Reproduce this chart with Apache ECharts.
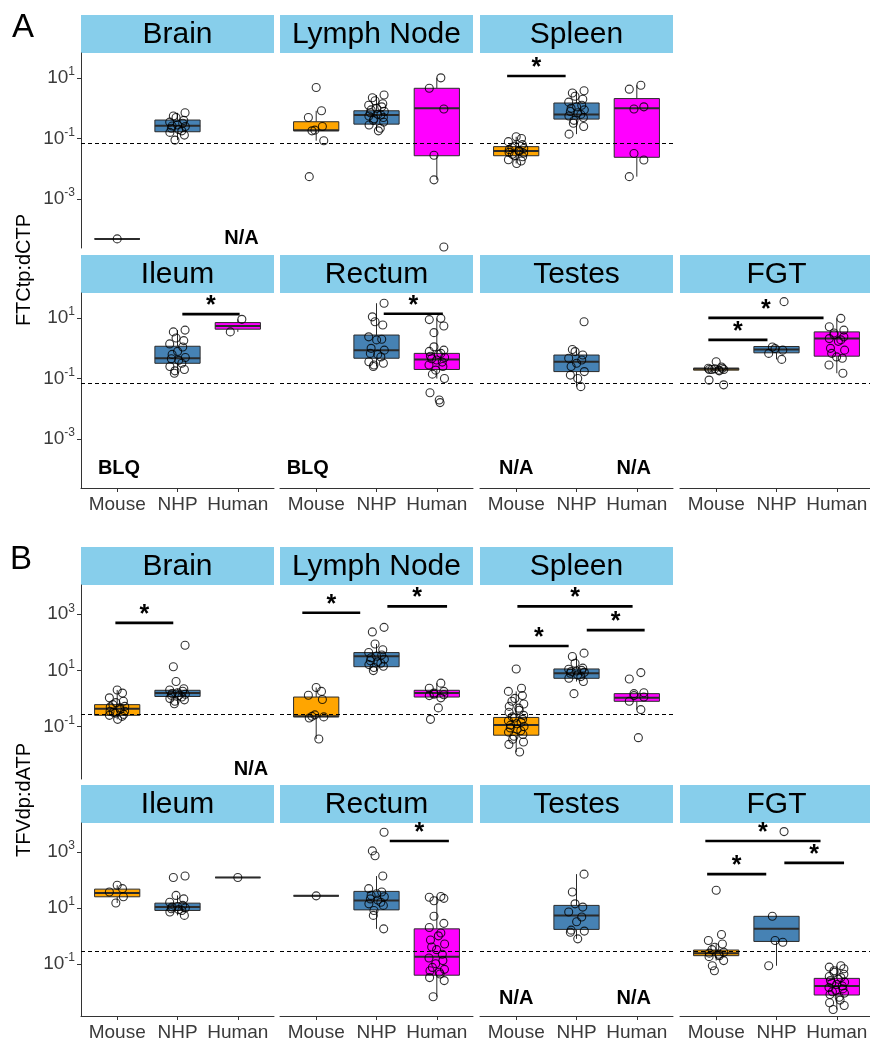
<!DOCTYPE html>
<html><head><meta charset="utf-8">
<script src="https://cdn.jsdelivr.net/npm/echarts@6/dist/echarts.min.js"></script>
<style>html,body{margin:0;padding:0;background:#fff}#c{width:870px;height:1041px}</style>
</head><body><div id="c"></div>
<script>
const groups = ['Mouse', 'NHP', 'Human'];
const groupColors = ['#FFA500', '#4682B4', '#FF00FF'];
const ftcTicks = [-3, -1, 1];
const tfvTicks = [-1, 1, 3];
const ftcLLOQ = 0.07;
const tfvLLOQ = 0.28;

// ---------- A: FTCtp:dCTP ----------
const ftcBrainMouse = [4.8e-5];
const ftcBrainMouseBox = [4.8e-5, 4.8e-5, 4.8e-5, 4.8e-5, 4.8e-5];
const ftcBrainNHP = [0.71,0.56,0.50,0.40,0.35,0.32,0.28,0.26,0.25,0.22,0.20,0.18,0.16,0.13,0.089];
const ftcBrainNHPBox = [0.089,0.168,0.265,0.41,0.71];

const ftcLymphMouse = [4.9,0.83,0.50,0.25,0.19,0.18,0.085,0.0055];
const ftcLymphMouseBox = [0.085,0.18,0.19,0.36,0.83];
const ftcLymphNHP = [2.75,2.24,1.78,1.41,1.26,1.12,1.0,0.89,0.79,0.71,0.63,0.60,0.56,0.50,0.45,0.40,0.35,0.28,0.22,0.18];
const ftcLymphNHPBox = [0.18,0.30,0.60,0.83,2.75];
const ftcLymphHuman = [10.2,4.6,0.95,0.028,0.0043,2.6e-5];
const ftcLymphHumanBox = [0.0043,0.027,1.0,4.6,10.2];

const ftcSpleenMouse = [0.115,0.10,0.079,0.063,0.056,0.050,0.047,0.043,0.040,0.038,0.035,0.033,0.030,0.0275,0.025,0.020,0.018,0.015];
const ftcSpleenMouseBox = [0.015,0.027,0.039,0.054,0.115];
const ftcSpleenNHP = [3.8,3.2,2.5,2.0,1.6,1.26,1.12,1.0,0.89,0.79,0.71,0.63,0.56,0.50,0.40,0.32,0.25,0.14];
const ftcSpleenNHPBox = [0.14,0.44,0.63,1.5,3.8];
const ftcSpleenHuman = [5.8,4.3,1.12,0.95,0.032,0.0195,0.0055];
const ftcSpleenHumanBox = [0.0055,0.024,1.0,2.1,5.8];
const ftcSpleenSig = [[0.85,1.82,11.7]];

const ftcIleumNHP = [4.0,3.5,2.2,1.8,1.4,1.1,0.79,0.63,0.50,0.45,0.40,0.32,0.25,0.20,0.18,0.15];
const ftcIleumNHPBox = [0.15,0.32,0.47,1.17,4.0];
const ftcIleumHuman = [9.1,3.5];
const ftcIleumHumanBox = [3.5,4.3,5.5,7.1,9.1];
const ftcIleumSig = [[2.08,3.03,13.5]];

const ftcRectumNHP = [31,11,7.6,5.9,2.4,2.0,1.9,1.0,0.87,0.68,0.63,0.52,0.36,0.32,0.28,0.25];
const ftcRectumNHPBox = [0.25,0.47,0.87,2.75,31];
const ftcRectumHuman = [9.8,8.9,5.5,3.3,1.12,0.87,0.79,0.68,0.63,0.55,0.50,0.45,0.41,0.35,0.28,0.25,0.19,0.14,0.10,0.034,0.0195,0.016];
const ftcRectumHumanBox = [0.10,0.20,0.43,0.68,9.8];
const ftcRectumSig = [[2.12,3.1,14]];

const ftcTestesNHP = [7.6,0.91,0.78,0.60,0.47,0.41,0.32,0.25,0.17,0.13,0.10,0.054];
const ftcTestesNHPBox = [0.054,0.17,0.36,0.60,0.91];

const ftcFGTMouse = [0.36,0.24,0.22,0.22,0.21,0.20,0.20,0.20,0.19,0.18,0.089,0.062];
const ftcFGTMouseBox = [0.18,0.19,0.21,0.22,0.24];
const ftcFGTNHP = [35,1.1,0.98,0.87,0.68,0.43];
const ftcFGTNHPBox = [0.43,0.71,0.91,1.15,1.15];
const ftcFGTHuman = [9.8,5.2,4.0,3.2,2.8,2.4,2.1,1.9,1.7,1.0,0.87,0.68,0.52,0.47,0.28,0.15];
const ftcFGTHumanBox = [0.15,0.55,2.1,3.5,9.8];
const ftcFGTSig = [[0.87,2.78,10.2],[0.87,1.85,1.9]];

// ---------- B: TFVdp:dATP ----------
const tfvBrainMouse = [2.0,1.55,1.05,0.79,0.71,0.60,0.52,0.50,0.46,0.40,0.35,0.35,0.32,0.30,0.27,0.25,0.23,0.18];
const tfvBrainMouseBox = [0.18,0.25,0.43,0.60,2.0];
const tfvBrainNHP = [78,13.5,4.0,2.2,2.0,1.8,1.6,1.5,1.4,1.3,1.26,1.12,1.0,0.89,0.79,0.65];
const tfvBrainNHPBox = [0.65,1.17,1.55,1.95,2.2];
const tfvBrainSig = [[0.97,1.93,490]];

const tfvLymphMouse = [2.45,1.78,1.29,0.91,0.26,0.23,0.22,0.20,0.036];
const tfvLymphMouseBox = [0.036,0.22,0.23,1.12,2.45];
const tfvLymphNHP = [340,234,87,54,43,35,32,28,25,22,20,18,16,14,12.6,9.8];
const tfvLymphNHPBox = [9.8,13.5,32,43,87];
const tfvLymphHuman = [3.5,2.3,1.78,1.55,1.4,1.35,1.26,1.05,0.46,0.18];
const tfvLymphHumanBox = [1.05,1.12,1.55,1.95,3.5];
const tfvLymphSig = [[0.77,1.73,1120],[2.18,3.17,1900]];

const tfvSpleenMouse = [11.2,2.3,1.78,1.26,1.0,0.79,0.63,0.52,0.45,0.38,0.32,0.25,0.22,0.20,0.18,0.16,0.14,0.126,0.112,0.10,0.089,0.079,0.071,0.063,0.052,0.045,0.035,0.028,0.023,0.0123];
const tfvSpleenMouseBox = [0.0123,0.049,0.112,0.21,1.78];
const tfvSpleenNHP = [41,31,18,12,11,10,9.5,9.1,8.5,7.9,6.9,6.0,5.2,4.0,1.48];
const tfvSpleenNHPBox = [4.0,5.2,7.9,11.2,31];
const tfvSpleenHuman = [8.3,4.9,1.6,1.48,1.26,1.12,0.79,0.40,0.040];
const tfvSpleenHumanBox = [0.40,0.79,1.05,1.48,1.6];
const tfvSpleenSig = [[1.02,2.93,1900],[2.17,3.13,270],[0.88,1.87,74]];

const tfvIleumMouse = [65,49,37,25,15];
const tfvIleumMouseBox = [15,25,34,47,65];
const tfvIleumNHP = [138,123,28,21,16,12.3,11.2,10.7,10,9.3,8.7,8.1,7.1,5.4];
const tfvIleumNHPBox = [5.4,8.1,10.7,14.8,28];
const tfvIleumHuman = [123];
const tfvIleumHumanBox = [123,123,123,123,123];

const tfvRectumMouse = [27];
const tfvRectumMouseBox = [27,27,27,27,27];
const tfvRectumNHP = [5100,1100,740,138,49,37,32,28,25,21,19,16,14,12.3,8.1,5.4,1.78];
const tfvRectumNHPBox = [1.78,8.5,18.6,39,138];
const tfvRectumHuman = [25.7,24,22,18,5.0,2.8,2.0,1.26,1.0,0.71,0.51,0.40,0.32,0.22,0.16,0.13,0.10,0.074,0.063,0.056,0.05,0.043,0.032,0.025,0.0066];
const tfvRectumHumanBox = [0.0066,0.039,0.18,1.78,25.7];
const tfvRectumSig = [[2.22,3.2,2500]];

const tfvTestesNHP = [162,37,14,10.7,7.1,4.7,3.2,1.6,1.48,1.35,0.78];
const tfvTestesNHPBox = [0.78,1.7,5.4,12.3,162];

const tfvFGTMouse = [43,1.12,0.68,0.51,0.39,0.32,0.26,0.24,0.22,0.195,0.18,0.13,0.085,0.056];
const tfvFGTMouseBox = [0.13,0.195,0.24,0.31,0.51];
const tfvFGTNHP = [5400,5.0,0.68,0.59,0.085];
const tfvFGTNHPBox = [0.085,0.63,1.78,5.0,5.0];
const tfvFGTHuman = [0.085,0.076,0.066,0.056,0.050,0.042,0.035,0.032,0.028,0.025,0.022,0.020,0.018,0.016,0.014,0.0126,0.0112,0.010,0.0089,0.0079,0.0063,0.0050,0.0040,0.0032,0.0023];
const tfvFGTHumanBox = [0.0023,0.0076,0.016,0.030,0.085];
const tfvFGTSig = [[0.82,2.73,2500],[2.13,3.12,410],[0.85,1.83,162]];

// ---------- panels ----------
const panels = [
  {sec:'A', row:0, col:0, title:'Brain', pts:[ftcBrainMouse, ftcBrainNHP, null], box:[ftcBrainMouseBox, ftcBrainNHPBox, null], sig:[], notes:[['N/A', 3.06, 4.8e-5]]},
  {sec:'A', row:0, col:1, title:'Lymph Node', pts:[ftcLymphMouse, ftcLymphNHP, ftcLymphHuman], box:[ftcLymphMouseBox, ftcLymphNHPBox, ftcLymphHumanBox], sig:[], notes:[]},
  {sec:'A', row:0, col:2, title:'Spleen', pts:[ftcSpleenMouse, ftcSpleenNHP, ftcSpleenHuman], box:[ftcSpleenMouseBox, ftcSpleenNHPBox, ftcSpleenHumanBox], sig:ftcSpleenSig, notes:[]},
  {sec:'A', row:1, col:0, title:'Ileum', pts:[null, ftcIleumNHP, ftcIleumHuman], box:[null, ftcIleumNHPBox, ftcIleumHumanBox], sig:ftcIleumSig, notes:[['BLQ', 1.03, 1.1e-4]]},
  {sec:'A', row:1, col:1, title:'Rectum', pts:[null, ftcRectumNHP, ftcRectumHuman], box:[null, ftcRectumNHPBox, ftcRectumHumanBox], sig:ftcRectumSig, notes:[['BLQ', 0.86, 1.1e-4]]},
  {sec:'A', row:1, col:2, title:'Testes', pts:[null, ftcTestesNHP, null], box:[null, ftcTestesNHPBox, null], sig:[], notes:[['N/A', 1.0, 1.1e-4], ['N/A', 2.95, 1.1e-4]]},
  {sec:'A', row:1, col:3, title:'FGT', pts:[ftcFGTMouse, ftcFGTNHP, ftcFGTHuman], box:[ftcFGTMouseBox, ftcFGTNHPBox, ftcFGTHumanBox], sig:ftcFGTSig, notes:[]},
  {sec:'B', row:2, col:0, title:'Brain', pts:[tfvBrainMouse, tfvBrainNHP, null], box:[tfvBrainMouseBox, tfvBrainNHPBox, null], sig:tfvBrainSig, notes:[['N/A', 3.22, 0.003]]},
  {sec:'B', row:2, col:1, title:'Lymph Node', pts:[tfvLymphMouse, tfvLymphNHP, tfvLymphHuman], box:[tfvLymphMouseBox, tfvLymphNHPBox, tfvLymphHumanBox], sig:tfvLymphSig, notes:[]},
  {sec:'B', row:2, col:2, title:'Spleen', pts:[tfvSpleenMouse, tfvSpleenNHP, tfvSpleenHuman], box:[tfvSpleenMouseBox, tfvSpleenNHPBox, tfvSpleenHumanBox], sig:tfvSpleenSig, notes:[]},
  {sec:'B', row:3, col:0, title:'Ileum', pts:[tfvIleumMouse, tfvIleumNHP, tfvIleumHuman], box:[tfvIleumMouseBox, tfvIleumNHPBox, tfvIleumHumanBox], sig:[], notes:[]},
  {sec:'B', row:3, col:1, title:'Rectum', pts:[tfvRectumMouse, tfvRectumNHP, tfvRectumHuman], box:[tfvRectumMouseBox, tfvRectumNHPBox, tfvRectumHumanBox], sig:tfvRectumSig, notes:[]},
  {sec:'B', row:3, col:2, title:'Testes', pts:[null, tfvTestesNHP, null], box:[null, tfvTestesNHPBox, null], sig:[], notes:[['N/A', 1.0, 0.0055], ['N/A', 2.95, 0.0055]]},
  {sec:'B', row:3, col:3, title:'FGT', pts:[tfvFGTMouse, tfvFGTNHP, tfvFGTHuman], box:[tfvFGTMouseBox, tfvFGTNHPBox, tfvFGTHumanBox], sig:tfvFGTSig, notes:[]}
];

// ---------- layout ----------
const FONT = 'Liberation Sans, Arial, Helvetica, sans-serif';
const colLeft = [81, 280, 480, 680];
const rowTop = [53, 293, 585, 823];
const rowH = [195, 195, 194, 193];
const panelW = 193, stripH = 38;
const yRange = {A: [-4.62, 1.83], B: [-2.87, 4.04]};
const L = Math.log10;
const jit = (k, n, g) => n === 1 ? 0 : 0.13 * Math.sin(k * 2.399 + g * 1.3);

function renderBox(params, api) {
  const x = api.value(0);
  const g = api.value(6);
  const cx = api.coord([x, api.value(3)])[0];
  const yLo = api.coord([x, api.value(1)])[1];
  const yQ1 = api.coord([x, api.value(2)])[1];
  const yMed = api.coord([x, api.value(3)])[1];
  const yQ3 = api.coord([x, api.value(4)])[1];
  const yHi = api.coord([x, api.value(5)])[1];
  const hw = api.size([0.75, 0])[0] / 2;
  const stroke = '#2b2b2b';
  return {type: 'group', children: [
    {type: 'line', shape: {x1: cx, y1: yHi, x2: cx, y2: yQ3}, style: {stroke, lineWidth: 1}},
    {type: 'line', shape: {x1: cx, y1: yQ1, x2: cx, y2: yLo}, style: {stroke, lineWidth: 1}},
    {type: 'rect', shape: {x: cx - hw, y: yQ3, width: 2 * hw, height: Math.max(yQ1 - yQ3, 0)}, style: {fill: groupColors[g], stroke, lineWidth: 1}},
    {type: 'line', shape: {x1: cx - hw, y1: yMed, x2: cx + hw, y2: yMed}, style: {stroke, lineWidth: 2}}
  ]};
}
function renderSig(params, api) {
  const p1 = api.coord([api.value(0), api.value(2)]);
  const p2 = api.coord([api.value(1), api.value(2)]);
  return {type: 'group', children: [
    {type: 'line', shape: {x1: p1[0], y1: p1[1], x2: p2[0], y2: p2[1]}, style: {stroke: '#000', lineWidth: 2.6}},
    {type: 'text', x: (p1[0] + p2[0]) / 2, y: p1[1] - 8, style: {text: '*', fontSize: 25, fontWeight: 'bold', fontFamily: FONT, fill: '#000', align: 'center', verticalAlign: 'middle'}}
  ]};
}

const grids = [], xAxes = [], yAxes = [], series = [], graphics = [];
panels.forEach((p, i) => {
  const r = p.row, c = p.col;
  grids.push({left: colLeft[c], top: rowTop[r], width: panelW, height: rowH[r], containLabel: false, outerBoundsMode: 'none'});
  const bottomRow = (r === 1 || r === 3);
  xAxes.push({
    type: 'value', gridIndex: i, min: 0.4, max: 3.6, show: bottomRow,
    axisLine: {show: true, onZero: false, lineStyle: {color: '#333', width: 1}},
    axisTick: {show: true, customValues: [1, 2, 3], length: 4, lineStyle: {color: '#333'}},
    axisLabel: {show: true, customValues: [1, 2, 3], formatter: v => groups[Math.round(v) - 1], fontSize: 19, color: '#3a3a3a', margin: 7, fontFamily: FONT},
    splitLine: {show: false}
  });
  const ticks = p.sec === 'A' ? ftcTicks : tfvTicks;
  yAxes.push({
    type: 'value', gridIndex: i, min: yRange[p.sec][0], max: yRange[p.sec][1], show: c === 0,
    axisLine: {show: true, onZero: false, lineStyle: {color: '#333', width: 1}},
    axisTick: {show: true, customValues: ticks, length: 4, lineStyle: {color: '#333'}},
    axisLabel: {show: true, customValues: ticks, margin: 6, color: '#3a3a3a',
      formatter: v => '{b|10}{s|' + v + '}',
      rich: {b: {fontSize: 19, fontFamily: FONT, color: '#3a3a3a', lineHeight: 24},
             s: {fontSize: 12, fontFamily: FONT, color: '#3a3a3a', verticalAlign: 'top', lineHeight: 14}}},
    splitLine: {show: false}
  });
  // boxes
  const boxData = [];
  p.box.forEach((b, g) => { if (b) boxData.push([g + 1, L(b[0]), L(b[1]), L(b[2]), L(b[3]), L(b[4]), g]); });
  series.push({type: 'custom', xAxisIndex: i, yAxisIndex: i, renderItem: renderBox, data: boxData, z: 2, silent: true, animation: false});
  // points + dashed reference line
  const ptsData = [];
  p.pts.forEach((arr, g) => { if (arr) arr.forEach((v, k) => ptsData.push([g + 1 + jit(k, arr.length, g), L(v)])); });
  series.push({
    type: 'scatter', xAxisIndex: i, yAxisIndex: i, data: ptsData, symbol: 'circle', symbolSize: 8,
    itemStyle: {color: 'rgba(255,255,255,0)', borderColor: '#000', borderWidth: 1.1}, z: 3, silent: true, animation: false,
    markLine: {silent: true, symbol: ['none', 'none'], label: {show: false}, animation: false,
      lineStyle: {color: '#000', type: [4, 3], width: 1},
      data: [{yAxis: L(p.sec === 'A' ? ftcLLOQ : tfvLLOQ)}]}
  });
  // significance bars
  if (p.sig.length) {
    series.push({type: 'custom', xAxisIndex: i, yAxisIndex: i, renderItem: renderSig, z: 4, silent: true, animation: false,
      data: p.sig.map(s => [s[0], s[1], L(s[2])])});
  }
  // notes
  if (p.notes.length) {
    const notes = p.notes;
    series.push({type: 'custom', xAxisIndex: i, yAxisIndex: i, z: 4, silent: true, animation: false,
      data: notes.map(n => [n[1], L(n[2])]),
      renderItem: (params, api) => {
        const pt = api.coord([api.value(0), api.value(1)]);
        return {type: 'text', x: pt[0], y: pt[1], style: {text: notes[params.dataIndex][0], fontSize: 20, fontWeight: 'bold', fontFamily: FONT, fill: '#000', align: 'center', verticalAlign: 'middle'}};
      }});
  }
  // strip
  graphics.push({type: 'rect', shape: {x: colLeft[c], y: rowTop[r] - stripH, width: panelW, height: stripH}, style: {fill: '#87CEEB'}, silent: true});
  graphics.push({type: 'text', x: colLeft[c] + panelW / 2, y: rowTop[r] - stripH / 2 + 1, style: {text: p.title, fontSize: 30, fontFamily: FONT, fill: '#000', align: 'center', verticalAlign: 'middle', textAlign: 'center', textVerticalAlign: 'middle'}, silent: true});
});

graphics.push({type: 'text', x: 23, y: 28, style: {text: 'A', fontSize: 33, fontFamily: FONT, fill: '#000', align: 'center', verticalAlign: 'middle', textAlign: 'center', textVerticalAlign: 'middle'}});
graphics.push({type: 'text', x: 21, y: 560, style: {text: 'B', fontSize: 33, fontFamily: FONT, fill: '#000', align: 'center', verticalAlign: 'middle', textAlign: 'center', textVerticalAlign: 'middle'}});
graphics.push({type: 'text', x: 24, y: 270, rotation: Math.PI / 2, style: {text: 'FTCtp:dCTP', fontSize: 20, fontFamily: FONT, fill: '#000', align: 'center', verticalAlign: 'middle', textAlign: 'center', textVerticalAlign: 'middle'}});
graphics.push({type: 'text', x: 24, y: 800, rotation: Math.PI / 2, style: {text: 'TFVdp:dATP', fontSize: 20, fontFamily: FONT, fill: '#000', align: 'center', verticalAlign: 'middle', textAlign: 'center', textVerticalAlign: 'middle'}});

const chart = echarts.init(document.getElementById('c'), null, {renderer: 'canvas'});
chart.setOption({
  animation: false,
  backgroundColor: '#fff',
  grid: grids, xAxis: xAxes, yAxis: yAxes, series: series,
  graphic: {elements: graphics}
});
</script></body></html>
